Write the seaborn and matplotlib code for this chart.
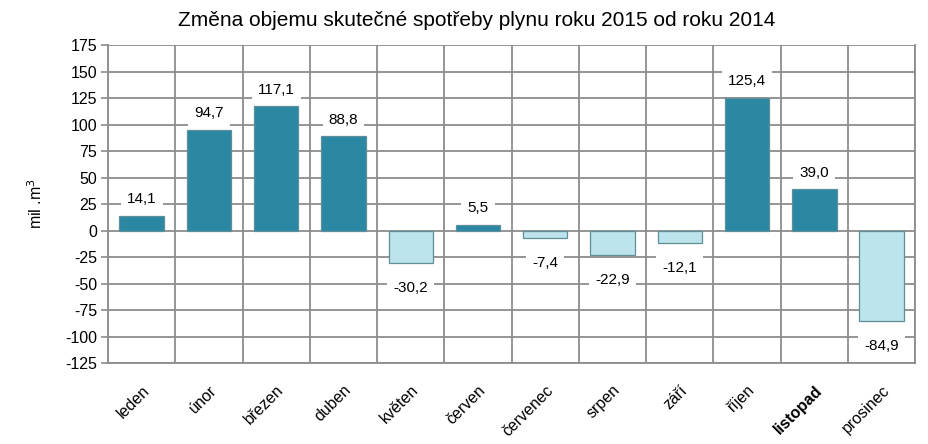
import matplotlib
matplotlib.use("Agg")
import matplotlib.pyplot as plt
import seaborn as sns
import pandas as pd
import numpy as np

months = ["leden", "únor", "březen", "duben", "květen", "červen", "červenec",
          "srpen", "září", "říjen", "listopad", "prosinec"]
values = [14.1, 94.7, 117.1, 88.8, -30.2, 5.5, -7.4, -22.9, -12.1, 125.4, 39.0, -84.9]
yticks = [175, 150, 125, 100, 75, 50, 25, 0, -25, -50, -75, -100, -125]
title = "Změna objemu skutečné spotřeby plynu roku 2015 od roku 2014"
ylabel = "mil .m$^3$"

sns.set_theme(style="white")
plt.rcParams['font.family'] = ['Liberation Sans', 'DejaVu Sans']
plt.rcParams['text.color'] = 'black'
plt.rcParams['axes.labelcolor'] = 'black'
plt.rcParams['xtick.color'] = 'black'
plt.rcParams['ytick.color'] = 'black'

df = pd.DataFrame({"month": months, "value": values})
df["sign"] = np.where(df["value"] >= 0, "pos", "neg")

fig = plt.figure(figsize=(9.29, 4.44), dpi=100)
ax = fig.add_axes([0.1163, 0.1824, 0.9852 - 0.1163, 0.8986 - 0.1824])

sns.barplot(data=df, x="month", y="value", hue="sign",
            palette={"pos": "#2B87A2", "neg": "#BDE3EC"}, saturation=1,
            dodge=False, width=0.66, legend=False, ax=ax,
            edgecolor="#5f8f9b", linewidth=0.9, zorder=3)

ax.set_ylim(-125, 175)
ax.set_xlim(-0.5, len(months) - 0.5)
ax.set_yticks(yticks)
ax.set_yticklabels([str(t) for t in yticks], fontsize=11.5)
ax.set_xticks(range(len(months)))
ax.set_xticklabels(months, rotation=45, ha="right", rotation_mode="anchor", fontsize=11.5)
for lab in ax.get_xticklabels():
    if lab.get_text() == "listopad":
        lab.set_fontweight("semibold")
ax.tick_params(axis="x", which="major", length=0, pad=14, colors="black")
ax.tick_params(axis="y", length=5, width=1.2, color="#8c8c8c", labelcolor="black",
               direction="out", pad=3, left=True)

ax.set_xticks(np.arange(-0.5, len(months), 1.0), minor=True)
ax.grid(True, which="major", axis="y", color="#8c8c8c", linewidth=1.3, zorder=0)
ax.grid(True, which="minor", axis="x", color="#8c8c8c", linewidth=1.3, zorder=0)
ax.tick_params(axis="x", which="minor", length=0)
ax.set_axisbelow(True)
ax.spines["top"].set_visible(False)
for s in ["left", "right", "bottom"]:
    ax.spines[s].set_color("#8c8c8c")
    ax.spines[s].set_linewidth(1.3)

ax.set_xlabel("")
ax.set_ylabel(ylabel, fontsize=11.5, labelpad=14, color="black")
ax.set_title(title, fontsize=15, pad=14, color="black", x=0.457)

for i, v in enumerate(values):
    txt = f"{v:.1f}".replace(".", ",")
    off = 12 if v >= 0 else -18
    ax.annotate(txt, (i, v), xytext=(0, off), textcoords="offset points",
                ha="center", va="center", fontsize=11, zorder=5, color="black",
                bbox=dict(boxstyle="square,pad=0.4", fc="white", ec="none"))

fig.savefig("out.png", dpi=100)
